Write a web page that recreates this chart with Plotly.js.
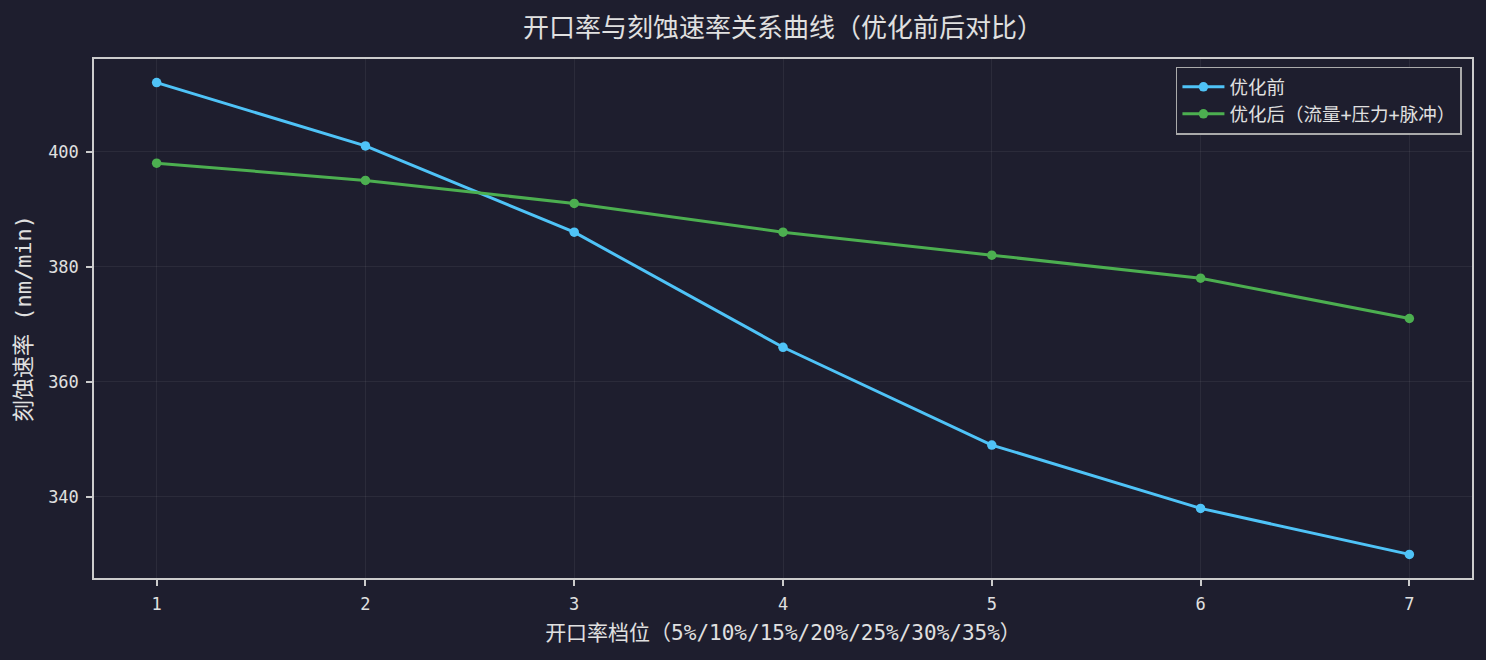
<!DOCTYPE html>
<html>
<head>
<meta charset="utf-8">
<script src="https://cdn.plot.ly/plotly-3.0.1.min.js"></script>
<style>
  html, body { margin:0; padding:0; background:#1e1e2e; }
  #chart { width:1486px; height:660px; }
</style>
</head>
<body>
<div id="chart"></div>
<script>
  // 开口率档位 1..7 (5%..35%)
  const levels = [1, 2, 3, 4, 5, 6, 7];
  const beforeRate = [412, 401, 386, 366, 349, 338, 330];
  const afterRate = [398, 395, 391, 386, 382, 378, 371];
  const yTicks = [340, 360, 380, 400];

  const font = "'DejaVu Sans Mono', 'Noto Sans CJK SC', sans-serif";
  const textColor = '#e0e0e0';

  const traces = [
    { type:'scatter', mode:'lines+markers', name:'优化前', x: levels, y: beforeRate,
      line:{ color:'#4fc3f7', width:3 }, marker:{ color:'#4fc3f7', size:9.5 } },
    { type:'scatter', mode:'lines+markers', name:'优化后（流量+压力+脉冲）', x: levels, y: afterRate,
      line:{ color:'#4caf50', width:3 }, marker:{ color:'#4caf50', size:9.5 } }
  ];

  const axisBase = {
    showline:true, linecolor:'#cccccc', linewidth:1.5, mirror:true,
    gridcolor:'rgba(255,255,255,0.06)', gridwidth:1, zeroline:false,
    ticks:'outside', ticklen:6, tickcolor:'#cccccc', tickwidth:1.5,
    ticklabelstandoff:4,
    tickfont:{ family:font, size:17, color:textColor }
  };

  const layout = {
    width:1486, height:660,
    paper_bgcolor:'#1e1e2e', plot_bgcolor:'#1e1e2e',
    margin:{ l:94, r:14, t:59, b:82 },
    font:{ family:font, color:textColor },
    title:{ text:'开口率与刻蚀速率关系曲线（优化前后对比）', x:0.527, xanchor:'center', y:0.958, yanchor:'middle',
      font:{ family:font, size:26, color:textColor } },
    xaxis:Object.assign({}, axisBase, {
      range:[0.7, 7.3], tickvals:levels, ticktext:levels.map(String),
      title:{ text:'开口率档位（5%/10%/15%/20%/25%/30%/35%）', standoff:12, font:{ family:font, size:21, color:textColor } }
    }),
    yaxis:Object.assign({}, axisBase, {
      range:[325.9, 416.1], tickvals:yTicks, ticktext:yTicks.map(String),
      title:{ text:'刻蚀速率 (nm/min)', standoff:10, font:{ family:font, size:22, color:textColor } }
    }),
    legend:{ x:0.9927, xanchor:'right', y:0.985, yanchor:'top',
      bgcolor:'#1e1e2e', bordercolor:'#aaaaaa', borderwidth:1.5, itemwidth:42, tracegroupgap:0,
      font:{ family:font, size:18.5, color:textColor } },
    showlegend:true
  };

  Plotly.newPlot('chart', traces, layout, { displayModeBar:false, responsive:false });
</script>
</body>
</html>
